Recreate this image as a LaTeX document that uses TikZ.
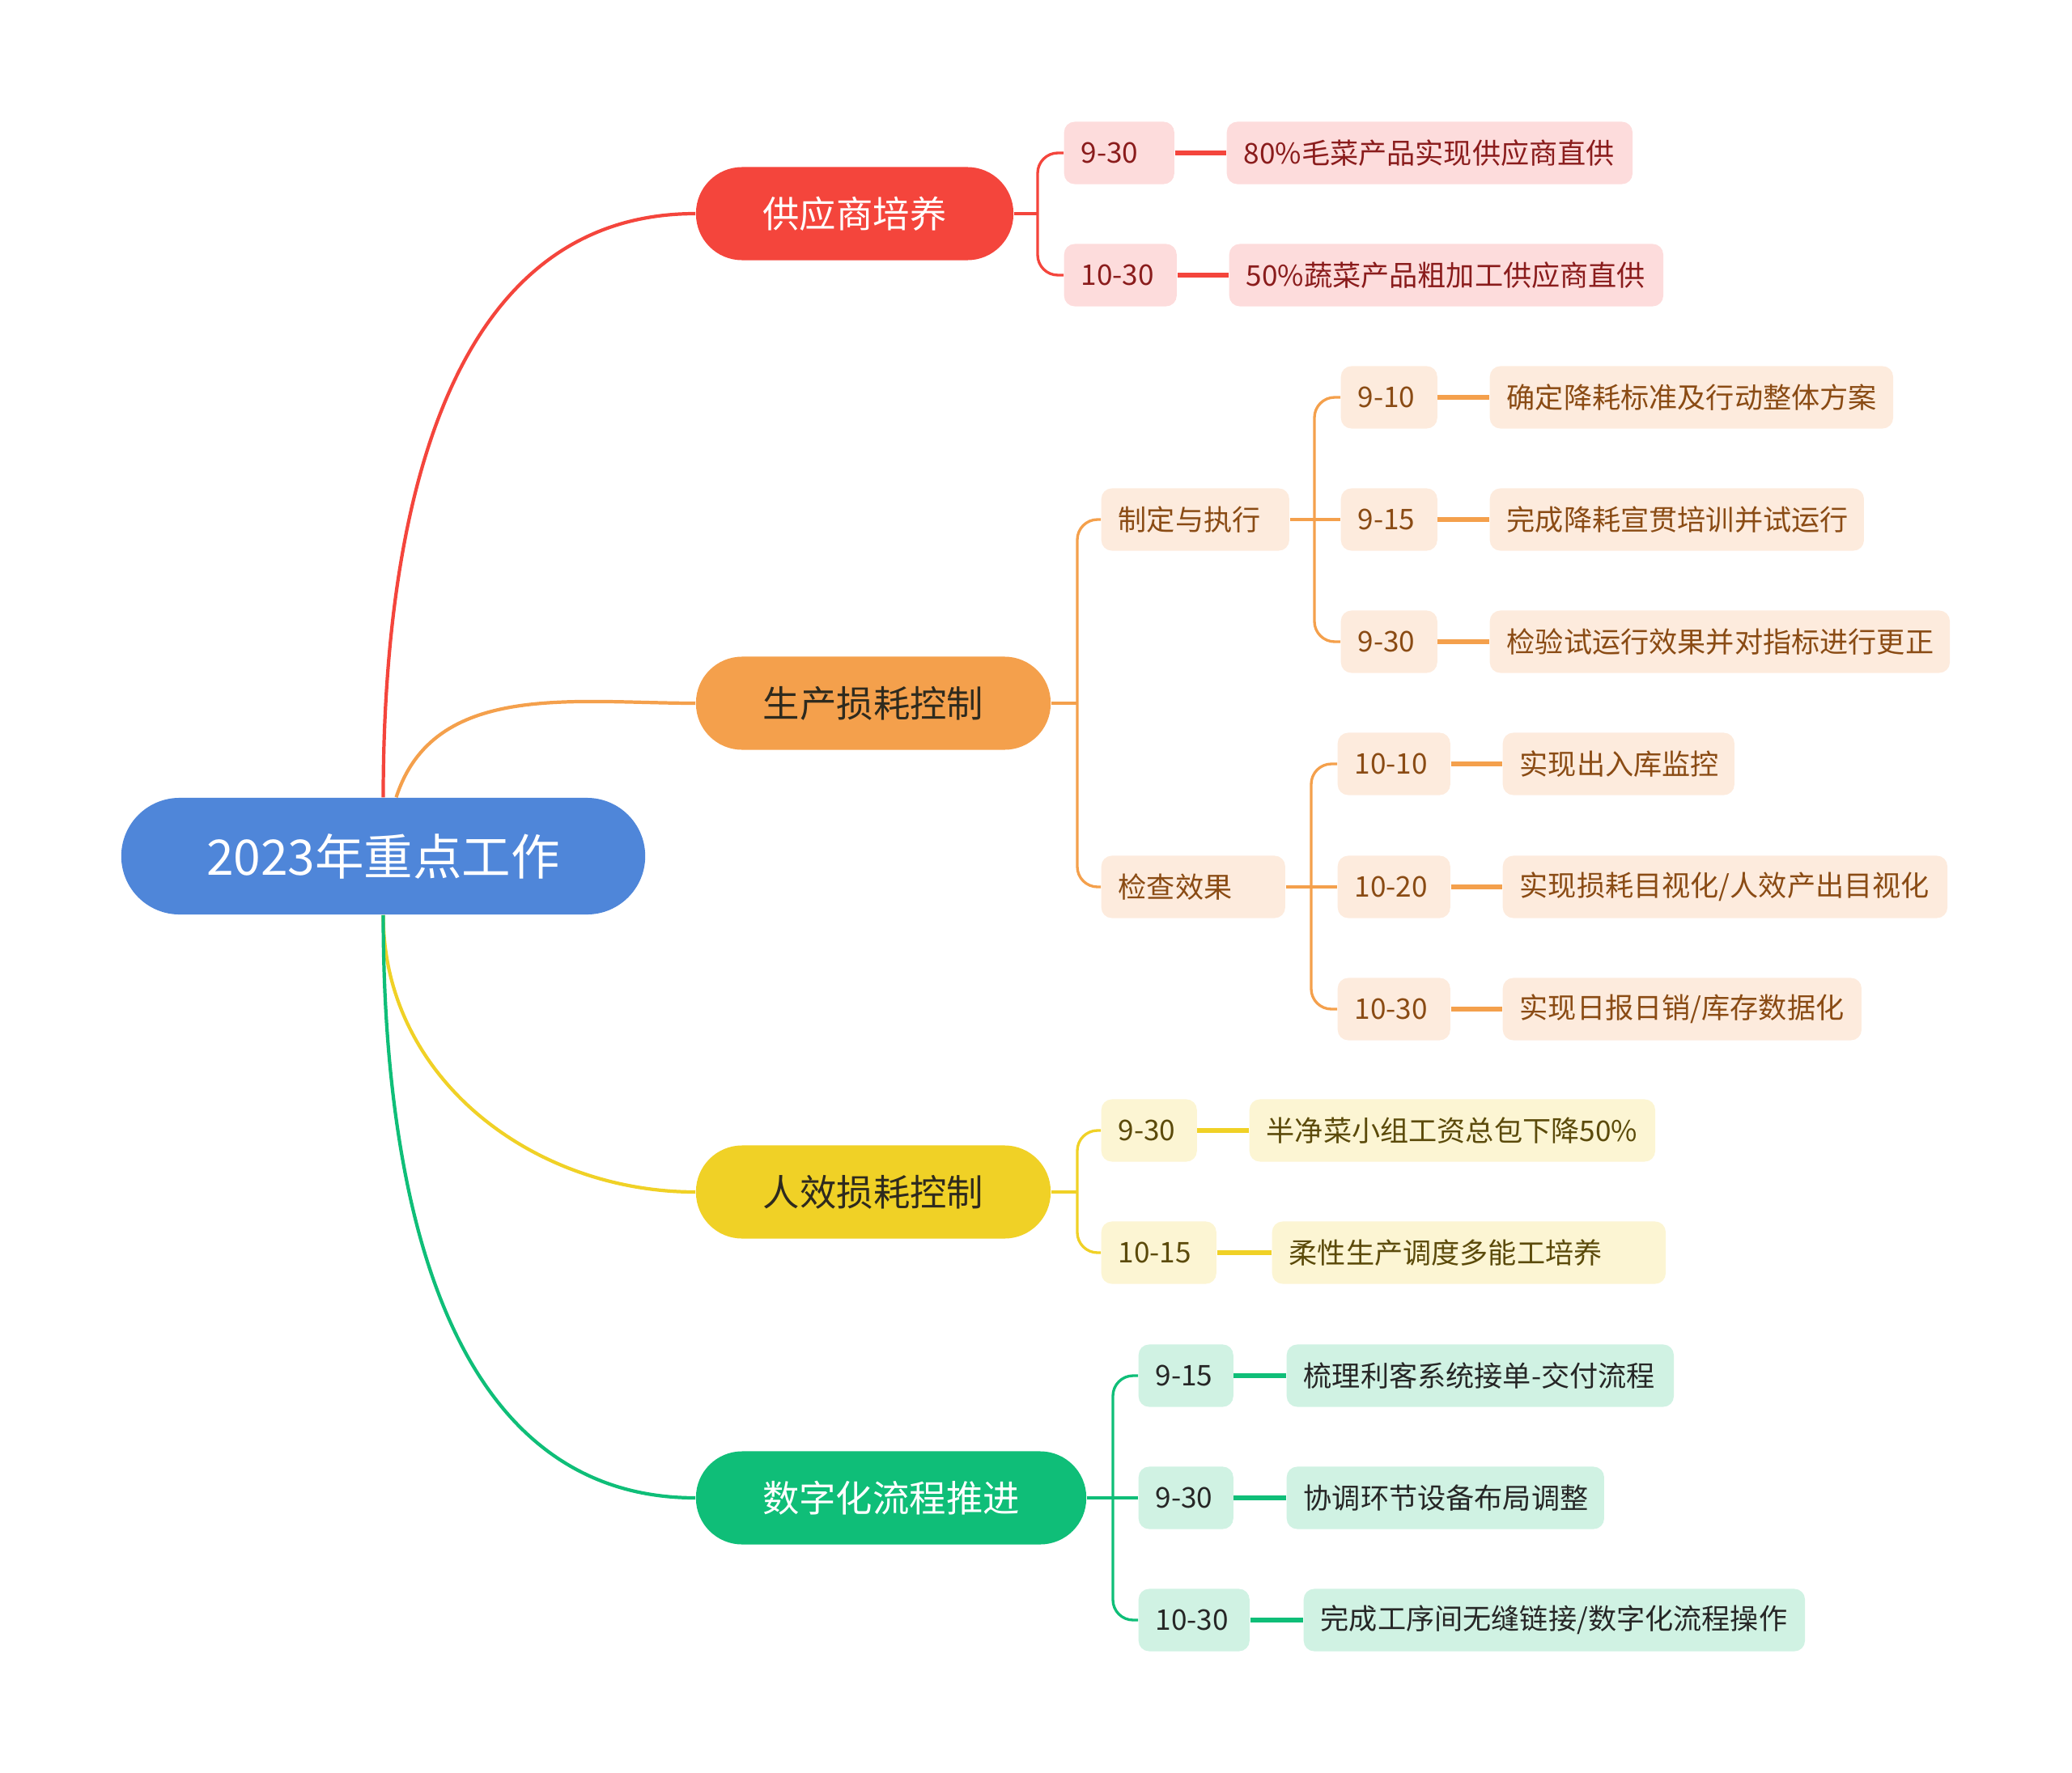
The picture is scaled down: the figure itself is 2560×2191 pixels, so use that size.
\documentclass[tikz,border=0pt]{standalone}
\usepackage{fontspec}
\setmainfont{Noto Sans CJK SC}
\usepackage{tikz}
\usetikzlibrary{positioning,calc}
\definecolor{rootblue}{HTML}{4F86D9}
\definecolor{supred}{HTML}{F4453C}
\definecolor{prodorange}{HTML}{F4A04C}
\definecolor{effyellow}{HTML}{F0D126}
\definecolor{diggreen}{HTML}{0FBE78}
\definecolor{pinkfill}{HTML}{FDDCDC}
\definecolor{peachfill}{HTML}{FDEBDD}
\definecolor{creamfill}{HTML}{FCF5D3}
\definecolor{mintfill}{HTML}{D0F2E3}
\definecolor{pinktext}{HTML}{8A1C1C}
\definecolor{peachtext}{HTML}{8A4B14}
\definecolor{creamtext}{HTML}{5B4A0A}
\definecolor{darktext}{HTML}{2E2A1E}
\tikzset{
  rootbox/.style={rounded corners=0.72cm,fill=rootblue,text=white,minimum height=1.44cm,
    inner sep=0pt,font=\fontsize{17.2}{20}\selectfont},
  mainbox/.style={rounded corners=0.57cm,minimum height=1.15cm,inner sep=0pt,
    font=\fontsize{12.9}{15}\selectfont},
  leaf/.style={rounded corners=0.13cm,minimum height=0.77cm,inner ysep=0pt,inner xsep=0.21cm,
    anchor=west,text width=#1,align=left,font=\fontsize{10}{12}\selectfont},
  supleaf/.style={leaf=#1,fill=pinkfill,text=pinktext},
  prodleaf/.style={leaf=#1,fill=peachfill,text=peachtext},
  effleaf/.style={leaf=#1,fill=creamfill,text=creamtext},
  digleaf/.style={leaf=#1,fill=mintfill,text=black!85},
  curve/.style={line width=1.2pt},
  fork/.style={line width=0.95pt,rounded corners=0.25cm},
  link/.style={line width=1.5pt}
}
\begin{document}
\begin{tikzpicture}[x=0.01cm,y=-0.01cm]
  \useasboundingbox (0,0) rectangle (2560,2191);
  % root and main branches
  \node[rootbox,minimum width=6.47cm] (root) at (473.5,1058) {2023年重点工作};
  \node[mainbox,fill=supred,text=white,minimum width=3.92cm] (sup) at (1056,264) {供应商培养};
  \node[mainbox,fill=prodorange,text=darktext,minimum width=4.38cm] (prod) at (1079,869) {生产损耗控制};
  \node[mainbox,fill=effyellow,text=darktext,minimum width=4.38cm] (eff) at (1079,1473) {人效损耗控制};
  \node[mainbox,fill=diggreen,text=white,minimum width=4.82cm] (dig) at (1101,1851) {数字化流程推进};

  \draw[curve,supred] (root.north) to[out=90,in=180] (sup.west);
  \draw[curve,prodorange] ([xshift=0.16cm]root.north) to[out=72,in=180] (prod.west);
  \draw[curve,effyellow] (root.south) to[out=-90,in=180] (eff.west);
  \draw[curve,diggreen] (root.south) to[out=-90,in=180] (dig.west);

  % supplier
  \node[supleaf=0.94cm] (s1d) at (1314,189) {9-30};
  \node[supleaf=4.59cm] (s1t) at (1515,189) {80\%毛菜产品实现供应商直供};
  \node[supleaf=0.97cm] (s2d) at (1314,340) {10-30};
  \node[supleaf=4.94cm] (s2t) at (1518,340) {50\%蔬菜产品粗加工供应商直供};
  \coordinate (supf) at (1282,264);
  \draw[fork,supred] (sup.east) -- (supf);
  \foreach \c in {s1d,s2d} \draw[fork,supred] (supf) |- (\c.west);
  \draw[link,supred] (s1d) -- (s1t);
  \draw[link,supred] (s2d) -- (s2t);

  % production loss
  \node[prodleaf=1.90cm] (p1) at (1360,642) {制定与执行};
  \node[prodleaf=1.85cm] (p2) at (1360,1096) {检查效果};
  \coordinate (prodf) at (1331,869);
  \draw[fork,prodorange] (prod.east) -- (prodf);
  \foreach \c in {p1,p2} \draw[fork,prodorange] (prodf) |- (\c.west);

  \node[prodleaf=0.77cm] (p1ad) at (1656,491) {9-10};
  \node[prodleaf=4.56cm] (p1at) at (1840,491) {确定降耗标准及行动整体方案};
  \node[prodleaf=0.77cm] (p1bd) at (1656,642) {9-15};
  \node[prodleaf=4.20cm] (p1bt) at (1840,642) {完成降耗宣贯培训并试运行};
  \node[prodleaf=0.77cm] (p1cd) at (1656,793) {9-30};
  \node[prodleaf=5.26cm] (p1ct) at (1840,793) {检验试运行效果并对指标进行更正};
  \coordinate (p1f) at (1624,642);
  \draw[fork,prodorange] (p1.east) -- (p1bd.west);
  \foreach \c in {p1ad,p1cd} \draw[fork,prodorange] (p1f) |- (\c.west);

  \node[prodleaf=0.97cm] (p2ad) at (1652,944) {10-10};
  \node[prodleaf=2.44cm] (p2at) at (1856,944) {实现出入库监控};
  \node[prodleaf=0.97cm] (p2bd) at (1652,1096) {10-20};
  \node[prodleaf=5.07cm] (p2bt) at (1856,1096) {实现损耗目视化/人效产出目视化};
  \node[prodleaf=0.97cm] (p2cd) at (1652,1247) {10-30};
  \node[prodleaf=4.01cm] (p2ct) at (1856,1247) {实现日报日销/库存数据化};
  \coordinate (p2f) at (1620,1096);
  \draw[fork,prodorange] (p2.east) -- (p2bd.west);
  \foreach \c in {p2ad,p2cd} \draw[fork,prodorange] (p2f) |- (\c.west);

  \foreach \d/\t in {p1ad/p1at,p1bd/p1bt,p1cd/p1ct,p2ad/p2at,p2bd/p2bt,p2cd/p2ct}
    \draw[link,prodorange] (\d) -- (\t);

  % staff efficiency
  \node[effleaf=0.76cm] (e1d) at (1360,1397) {9-30};
  \node[effleaf=4.59cm] (e1t) at (1543,1397) {半净菜小组工资总包下降50\%};
  \node[effleaf=1.00cm] (e2d) at (1360,1548) {10-15};
  \node[effleaf=4.44cm] (e2t) at (1571,1548) {柔性生产调度多能工培养};
  \coordinate (efff) at (1331,1473);
  \draw[fork,effyellow] (eff.east) -- (efff);
  \foreach \c in {e1d,e2d} \draw[fork,effyellow] (efff) |- (\c.west);
  \draw[link,effyellow] (e1d) -- (e1t);
  \draw[link,effyellow] (e2d) -- (e2t);

  % digital process
  \node[digleaf=0.75cm] (g1d) at (1406,1700) {9-15};
  \node[digleaf=4.36cm] (g1t) at (1589,1700) {梳理利客系统接单-交付流程};
  \node[digleaf=0.75cm] (g2d) at (1406,1851) {9-30};
  \node[digleaf=3.50cm] (g2t) at (1589,1851) {协调环节设备布局调整};
  \node[digleaf=0.95cm] (g3d) at (1406,2002) {10-30};
  \node[digleaf=5.77cm] (g3t) at (1610,2002) {完成工序间无缝链接/数字化流程操作};
  \coordinate (digf) at (1375,1851);
  \draw[fork,diggreen] (dig.east) -- (g2d.west);
  \foreach \c in {g1d,g3d} \draw[fork,diggreen] (digf) |- (\c.west);
  \foreach \d/\t in {g1d/g1t,g2d/g2t,g3d/g3t}
    \draw[link,diggreen] (\d) -- (\t);
\end{tikzpicture}
\end{document}
